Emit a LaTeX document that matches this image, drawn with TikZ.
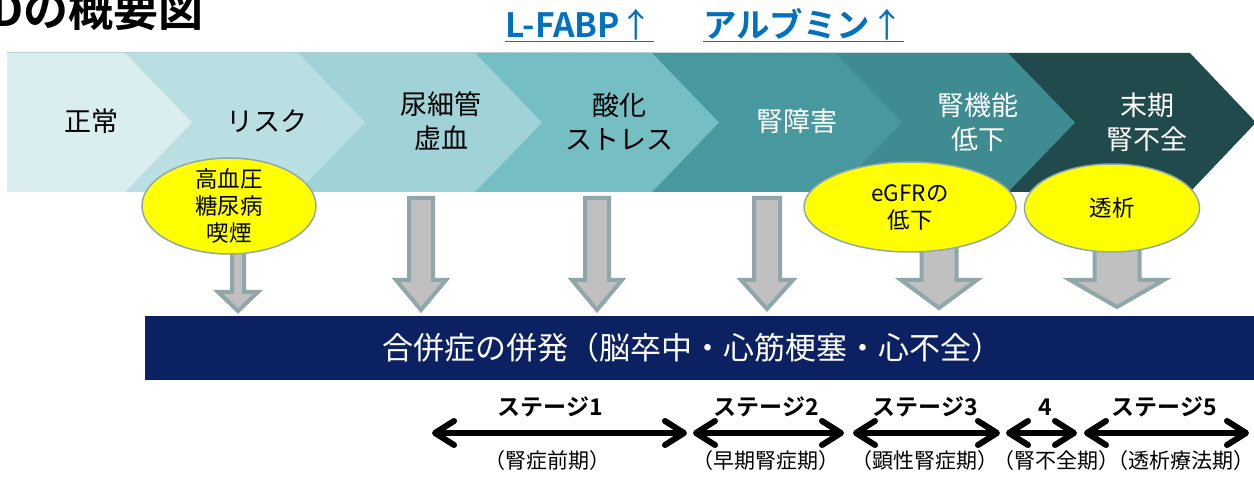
\documentclass[tikz,border=0pt]{standalone}
\usepackage{fontspec}
\setmainfont{Noto Sans CJK JP}[BoldFont={Noto Sans CJK JP Bold}]
\usetikzlibrary{arrows.meta,shapes.geometric}
\definecolor{chA}{HTML}{DAEDEF}
\definecolor{chB}{HTML}{B9DFE3}
\definecolor{chC}{HTML}{A0D3D8}
\definecolor{chD}{HTML}{75BEC4}
\definecolor{chE}{HTML}{48989F}
\definecolor{chF}{HTML}{3E8B91}
\definecolor{chG}{HTML}{214A4D}
\definecolor{linkblue}{HTML}{0070C0}
\definecolor{navy}{HTML}{0B2161}
\definecolor{arrfill}{HTML}{C0C0C0}
\definecolor{arrline}{HTML}{8FA7AA}
\definecolor{ellline}{HTML}{8DA9AD}
\definecolor{ellfill}{HTML}{FFFF00}
\newcommand{\chev}[3]{\fill[#3] (7,53) -- (#1,53) -- (#2,122.5) -- (#1,192) -- (7,192) -- cycle;}
\newcommand{\grayarr}[6]{\draw[grayarrow] (#1-#3,#2) -- (#1+#3,#2) -- (#1+#3,#5) -- (#1+#4,#5) -- (#1,#6) -- (#1-#4,#5) -- (#1-#3,#5) -- cycle;}
\begin{document}
\begin{tikzpicture}[x=1pt,y=-1pt,
  chtext/.style={inner sep=0pt, align=center, font=\fontsize{27}{34}\selectfont},
  ellbox/.style={ellipse, fill=ellfill, draw=ellline, line width=1.5pt, inner sep=0pt},
  elltext/.style={inner sep=0pt, align=center, font=\fontsize{22.5}{27}\selectfont},
  grayarrow/.style={fill=arrfill, draw=arrline, line width=4pt, line join=miter},
  stagearr/.style={line width=6pt, {Straight Barb[length=19pt,width=24pt,round]}-{Straight Barb[length=19pt,width=24pt,round]}},
  stagelab/.style={inner sep=0pt, font=\bfseries\fontsize{23}{26}\selectfont},
  sublab/.style={inner sep=0pt, font=\fontsize{21}{24}\selectfont},
  link/.style={anchor=base west, inner sep=0pt, text=linkblue, font=\bfseries\fontsize{33.5}{36}\selectfont}]
\useasboundingbox (0,0) rectangle (1254,481);
\fill[white] (0,0) rectangle (1254,481);

% title (cut at the page edge, as in the reference)
\node[anchor=base east, inner sep=0pt, font=\bfseries\fontsize{45}{50}\selectfont] (title) at (204,27) {CKDの概要図};

% blue markers
\node[link] (lf) at (505,38) {L-FABP{\mdseries ↑}};
\node[link] (alb) at (703,38) {アルブミン{\mdseries ↑}};
\draw[linkblue, line width=1.8pt] ([yshift=-3.5pt]lf.base west) -- ([yshift=-3.5pt]lf.base east);
\draw[linkblue, line width=1.8pt] ([yshift=-3.5pt]alb.base west) -- ([yshift=-3.5pt]alb.base east);

% chevrons, right to left so each tip overlays the next
\chev{1190}{1256}{chG}
\chev{1008}{1075}{chF}
\chev{835}{902}{chE}
\chev{652}{719}{chD}
\chev{475}{542}{chC}
\chev{298}{365}{chB}
\chev{125}{192}{chA}

\node[chtext] (c1) at (91,121) {正常};
\node[chtext] (c2) at (267,121) {リスク};
\node[chtext] (c3) at (441,121) {尿細管\\虚血};
\node[chtext] (c4) at (619,122) {酸化\\ストレス};
\node[chtext, text=white] (c5) at (797,121) {腎障害};
\node[chtext, text=white] (c6) at (978,122) {腎機能\\低下};
\node[chtext, text=white] (c7) at (1147,122) {末期\\腎不全};

% gray arrows
\grayarr{238}{235}{6}{20}{292}{311}
\grayarr{421}{198}{12}{25}{280}{310}
\grayarr{597}{198}{12}{25}{280}{310}
\grayarr{767}{198}{13}{26}{280}{309}
\grayarr{939}{235}{17.5}{38}{280}{308}
\grayarr{1117}{235}{22.5}{47}{280}{307}

% yellow ellipses
\node[ellbox, minimum width=174pt, minimum height=96pt] (e1) at (229,206) {};
\node[elltext] (e1t) at (e1) {高血圧\\糖尿病\\喫煙};
\node[ellbox, minimum width=212pt, minimum height=90pt] (e2) at (910,207) {};
\node[elltext] (e2t) at (e2) {eGFRの\\低下};
\node[ellbox, minimum width=175pt, minimum height=88pt] (e3) at (1112,208) {};
\node[elltext] (e3t) at (e3) {透析};

% navy bar
\fill[navy] (145,316) rectangle (1254,380);
\node[inner sep=0pt, text=white, font=\fontsize{31}{34}\selectfont] (bar) at (692,348) {合併症の併発（脳卒中・心筋梗塞・心不全）};

% stage arrows
\coordinate (p0) at (432,433);
\coordinate (p1) at (687,433);
\coordinate (p2) at (693,433);
\coordinate (p3) at (844,433);
\coordinate (p4) at (853,433);
\coordinate (p5) at (1000,433);
\coordinate (p6) at (1006,433);
\coordinate (p7) at (1077,433);
\coordinate (p8) at (1084,433);
\coordinate (p9) at (1249,433);
\draw[stagearr] (p0) -- (p1);
\draw[stagearr] (p2) -- (p3);
\draw[stagearr] (p4) -- (p5);
\draw[stagearr] (p6) -- (p7);
\draw[stagearr] (p8) -- (p9);

\node[stagelab] (s1) at (550,407) {ステージ1};
\node[stagelab] (s2) at (766,407) {ステージ2};
\node[stagelab] (s3) at (925,407) {ステージ3};
\node[stagelab] (s4) at (1045,407) {4};
\node[stagelab] (s5) at (1164,407) {ステージ5};

\node[sublab] (l1) at (547,461) {（腎症前期）};
\node[sublab] (l2) at (766,461) {（早期腎症期）};
\node[sublab] (l3) at (925,461) {（顕性腎症期）};
\node[sublab] (l4) at (1056,461) {（腎不全期）};
\node[sublab] (l5) at (1181,461) {（透析療法期）};
\end{tikzpicture}
\end{document}
